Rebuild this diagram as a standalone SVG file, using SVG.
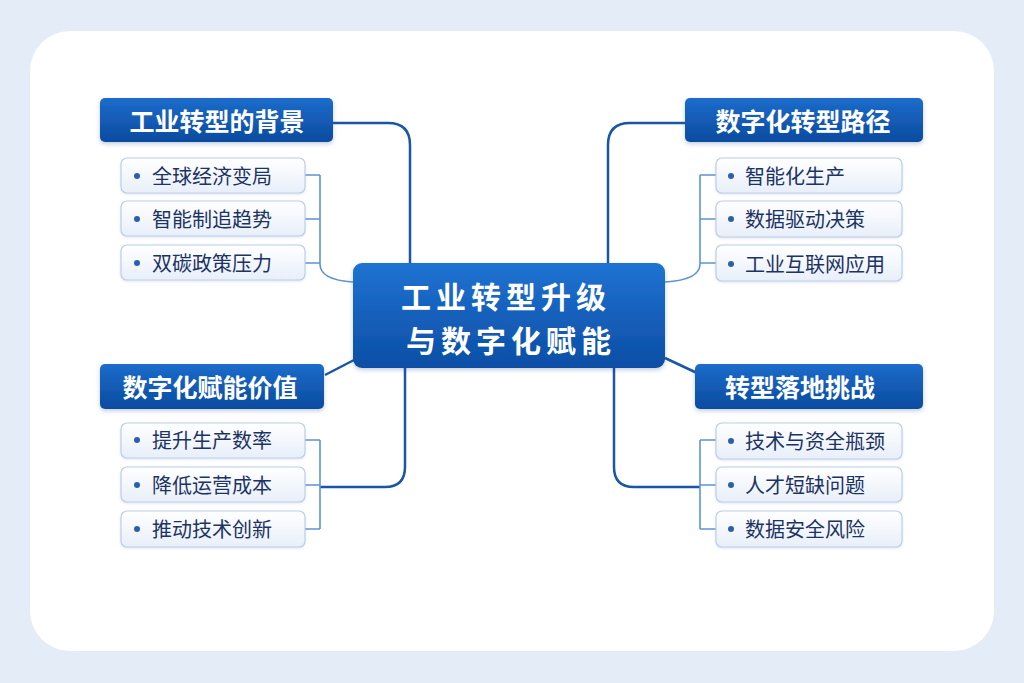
<svg xmlns="http://www.w3.org/2000/svg" width="1024" height="683" viewBox="0 0 1024 683">
<defs>
<linearGradient id="gHead" x1="0" y1="0" x2="0" y2="1">
<stop offset="0" stop-color="#1c6ccb"/>
<stop offset="1" stop-color="#0b4b9f"/>
</linearGradient>
<linearGradient id="gCenter" x1="0" y1="0" x2="0" y2="1">
<stop offset="0" stop-color="#1f72d2"/>
<stop offset="1" stop-color="#0c4ea5"/>
</linearGradient>
<linearGradient id="gItem" x1="0" y1="0" x2="0" y2="1">
<stop offset="0" stop-color="#ffffff"/>
<stop offset="1" stop-color="#e8eff9"/>
</linearGradient>
<filter id="sh" x="-10%" y="-20%" width="120%" height="150%">
<feDropShadow dx="0" dy="2" stdDeviation="2" flood-color="#0b3a7a" flood-opacity="0.25"/>
</filter>
<filter id="shs" x="-10%" y="-20%" width="120%" height="150%">
<feDropShadow dx="0" dy="1" stdDeviation="1.2" flood-color="#5a7fb5" flood-opacity="0.2"/>
</filter>
</defs>
<style>
.head{fill:url(#gHead);filter:url(#sh)}
.htxt{font-family:"Noto Sans CJK SC","Noto Sans",sans-serif;font-weight:700;font-size:25px;fill:#ffffff;text-anchor:middle;dominant-baseline:central}
.ctxt{font-family:"Noto Sans CJK SC","Noto Sans",sans-serif;font-weight:700;font-size:30px;letter-spacing:5px;fill:#ffffff;text-anchor:middle;dominant-baseline:central}
.item{fill:url(#gItem);stroke:#bccfe9;stroke-width:1.2;filter:url(#shs)}
.itxt{font-family:"Noto Sans CJK SC","Noto Sans",sans-serif;font-size:20px;fill:#1c3365;dominant-baseline:central}
.dot{fill:#2b5fae}
.main{fill:none;stroke:#1a56a6;stroke-width:2.5}
.sub{fill:none;stroke:#5f93d2;stroke-width:1.6}
</style>
<rect x="0" y="0" width="1024" height="683" fill="#e3ecf7"/>
<rect x="30" y="31" width="964" height="620" rx="40" fill="#ffffff"/>

<g id="connectors">
<path class="main" d="M333 123 H388 Q410 123 410 145 V263"/>
<path class="main" d="M685 123 H630 Q608 123 608 145 V263"/>
<path class="main" d="M325 375 L354 360"/>
<path class="main" d="M665 358 L697 373"/>
<path class="main" d="M405 368 V467 Q405 487 385 487 H320"/>
<path class="main" d="M614 368 V467 Q614 487 634 487 H700"/>
<path class="sub" d="M305 175 H320 M305 219 H320 M305 263 H320 M320 175 V264 Q320 280 353 282"/>
<path class="sub" d="M716 175 H700 M716 219 H700 M716 263 H700 M700 175 V264 Q700 280 665 282"/>
<path class="sub" d="M305 440 H320 M305 485 H320 M305 529 H320 M320 440 V529"/>
<path class="sub" d="M716 440 H700 M716 485 H700 M716 529 H700 M700 440 V529"/>
</g>

<g id="center">
<rect x="353" y="263" width="312" height="105" rx="9" fill="url(#gCenter)" filter="url(#sh)"/>
<text class="ctxt"><tspan x="506" y="295">工业转型升级</tspan><tspan x="511" y="339">与数字化赋能</tspan></text>
</g>

<g id="head-bg">
<rect class="head" x="100" y="98" width="233" height="44" rx="5"/>
<text class="htxt" x="217" y="120">工业转型的背景</text>
</g>
<g id="head-path">
<rect class="head" x="685" y="98" width="238" height="44" rx="5"/>
<text class="htxt" x="803" y="120">数字化转型路径</text>
</g>
<g id="head-value">
<rect class="head" x="100" y="364" width="224" height="45" rx="5"/>
<text class="htxt" x="210" y="386">数字化赋能价值</text>
</g>
<g id="head-challenge">
<rect class="head" x="695" y="364" width="228" height="45" rx="5"/>
<text class="htxt" x="800" y="386">转型落地挑战</text>
</g>

<g id="item-l1"><rect class="item" x="121" y="158" width="184" height="35" rx="6"/><circle class="dot" cx="137" cy="176" r="3"/><text class="itxt" x="152" y="175">全球经济变局</text></g>
<g id="item-l2"><rect class="item" x="121" y="201" width="184" height="35" rx="6"/><circle class="dot" cx="137" cy="219" r="3"/><text class="itxt" x="152" y="218">智能制追趋势</text></g>
<g id="item-l3"><rect class="item" x="121" y="245" width="184" height="35" rx="6"/><circle class="dot" cx="137" cy="263" r="3"/><text class="itxt" x="152" y="262">双碳政策压力</text></g>

<g id="item-r1"><rect class="item" x="716" y="158" width="186" height="35" rx="6"/><circle class="dot" cx="731" cy="176" r="3"/><text class="itxt" x="745" y="175">智能化生产</text></g>
<g id="item-r2"><rect class="item" x="716" y="201" width="186" height="36" rx="6"/><circle class="dot" cx="731" cy="219" r="3"/><text class="itxt" x="745" y="218">数据驱动决策</text></g>
<g id="item-r3"><rect class="item" x="716" y="245" width="186" height="36" rx="6"/><circle class="dot" cx="731" cy="264" r="3"/><text class="itxt" x="745" y="263">工业互联网应用</text></g>

<g id="item-bl1"><rect class="item" x="121" y="423" width="184" height="35" rx="6"/><circle class="dot" cx="137" cy="440" r="3"/><text class="itxt" x="152" y="439">提升生产数率</text></g>
<g id="item-bl2"><rect class="item" x="121" y="467" width="184" height="35" rx="6"/><circle class="dot" cx="137" cy="485" r="3"/><text class="itxt" x="152" y="484">降低运营成本</text></g>
<g id="item-bl3"><rect class="item" x="121" y="511" width="184" height="36" rx="6"/><circle class="dot" cx="137" cy="529" r="3"/><text class="itxt" x="152" y="528">推动技术创新</text></g>

<g id="item-br1"><rect class="item" x="716" y="423" width="186" height="36" rx="6"/><circle class="dot" cx="731" cy="441" r="3"/><text class="itxt" x="745" y="440">技术与资全瓶颈</text></g>
<g id="item-br2"><rect class="item" x="716" y="467" width="186" height="35" rx="6"/><circle class="dot" cx="731" cy="485" r="3"/><text class="itxt" x="745" y="484">人才短缺问题</text></g>
<g id="item-br3"><rect class="item" x="716" y="511" width="186" height="36" rx="6"/><circle class="dot" cx="731" cy="529" r="3"/><text class="itxt" x="745" y="528">数据安全风险</text></g>
</svg>
